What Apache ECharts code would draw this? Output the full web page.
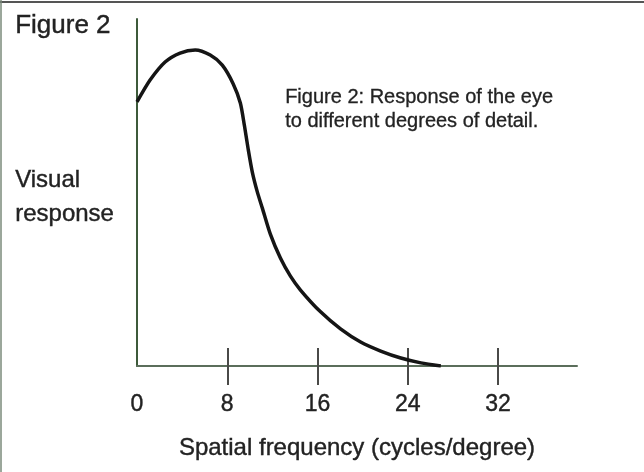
<!DOCTYPE html>
<html>
<head>
<meta charset="utf-8">
<script src="https://cdn.jsdelivr.net/npm/echarts@6/dist/echarts.min.js"></script>
<style>
  html, body { margin: 0; padding: 0; background: #fff; }
  #chart { width: 644px; height: 472px; }
</style>
</head>
<body>
<div id="chart"></div>
<script>
// spatial frequency (cycles/degree)
const freqX = [0, 1.16, 2.49, 3.82, 5.16, 6.49, 7.56, 8.53, 9.16, 9.51, 9.87, 10.22, 10.67, 11.11, 11.82, 12.71, 13.6, 14.49, 16.27, 18.04, 19.82, 21.6, 23.38, 25.16, 26.93]
// visual response, arbitrary units (0..100)
const responseY = [76.1, 82.4, 87.6, 90.2, 91.1, 89.6, 86.7, 81.3, 75.8, 69.5, 62.2, 55.9, 50.1, 45.5, 38.0, 31.1, 25.9, 21.9, 15.6, 10.7, 6.9, 4.3, 2.3, 0.9, 0]
const tickLabels = [0, 8, 16, 24, 32]
const tickMarks = [8, 16, 24, 32]

const font = '"Liberation Sans", Arial, Helvetica, sans-serif'
const ink = '#222'

const chart = echarts.init(document.getElementById('chart'), null, { renderer: 'canvas' })

const options = {
  backgroundColor: '#ffffff',
  animation: false,
  grid: {
    left: 137,
    right: 67,
    top: 19,
    bottom: 106
  },
  xAxis: [
    {
      type: 'value',
      position: 'bottom',
      min: 0,
      max: 39,
      interval: 8,
      name: 'Spatial frequency (cycles/degree)',
      nameLocation: 'middle',
      nameGap: 70,
      nameTextStyle: {
        fontFamily: font,
        fontSize: 24,
        color: ink,
        textBorderColor: ink,
        textBorderWidth: 0.4
      },
      axisLine: {
        show: true,
        lineStyle: { color: '#5b6e5b', width: 2 }
      },
      axisTick: {
        show: true,
        inside: true,
        length: 18,
        customValues: tickMarks,
        lineStyle: { color: '#4a4a48', width: 2 }
      },
      axisLabel: {
        margin: 27,
        fontFamily: font,
        fontSize: 23,
        customValues: tickLabels,
        textBorderColor: ink,
        textBorderWidth: 0.4,
        color: (value) => (value === 0 ? '#1e3d1e' : ink)
      },
      splitLine: { show: false }
    },
    {
      // second copy of the axis only for the lower half of the tick crosses
      type: 'value',
      position: 'bottom',
      min: 0,
      max: 39,
      interval: 8,
      axisLine: { show: false },
      axisTick: {
        show: true,
        inside: false,
        length: 19,
        customValues: tickMarks,
        lineStyle: { color: '#4a4a48', width: 2 }
      },
      axisLabel: { show: false },
      splitLine: { show: false }
    }
  ],
  yAxis: {
    type: 'value',
    min: 0,
    max: 100,
    axisLine: {
      show: true,
      lineStyle: { color: '#3d5a3a', width: 2 }
    },
    axisTick: { show: false },
    axisLabel: { show: false },
    splitLine: { show: false }
  },
  series: [
    {
      type: 'line',
      xAxisIndex: 0,
      data: freqX.map((x, i) => [x, responseY[i]]),
      smooth: 0.25,
      symbol: 'none',
      lineStyle: { color: '#151515', width: 3.5 }
    }
  ],
  graphic: [
    {
      type: 'line',
      shape: { x1: 0, y1: 2, x2: 644, y2: 2 },
      style: { stroke: '#555', lineWidth: 2 }
    },
    {
      type: 'line',
      shape: { x1: 1, y1: 0, x2: 1, y2: 472 },
      style: { stroke: '#7a8a7a', lineWidth: 1.5 }
    },
    {
      type: 'text',
      left: 15,
      top: 13,
      style: { text: 'Figure 2', font: '26px ' + font, fill: ink, stroke: ink, lineWidth: 0.4 }
    },
    {
      type: 'text',
      left: 15,
      top: 163,
      style: { text: 'Visual\nresponse', font: '24px ' + font, lineHeight: 34, fill: ink, stroke: ink, lineWidth: 0.4 }
    },
    {
      type: 'text',
      left: 285,
      top: 85,
      style: {
        text: 'Figure 2: Response of the eye\nto different degrees of detail.',
        font: '20px ' + font,
        lineHeight: 24,
        fill: ink,
        stroke: ink,
        lineWidth: 0.3
      }
    }
  ]
}

chart.setOption(options)
</script>
</body>
</html>
